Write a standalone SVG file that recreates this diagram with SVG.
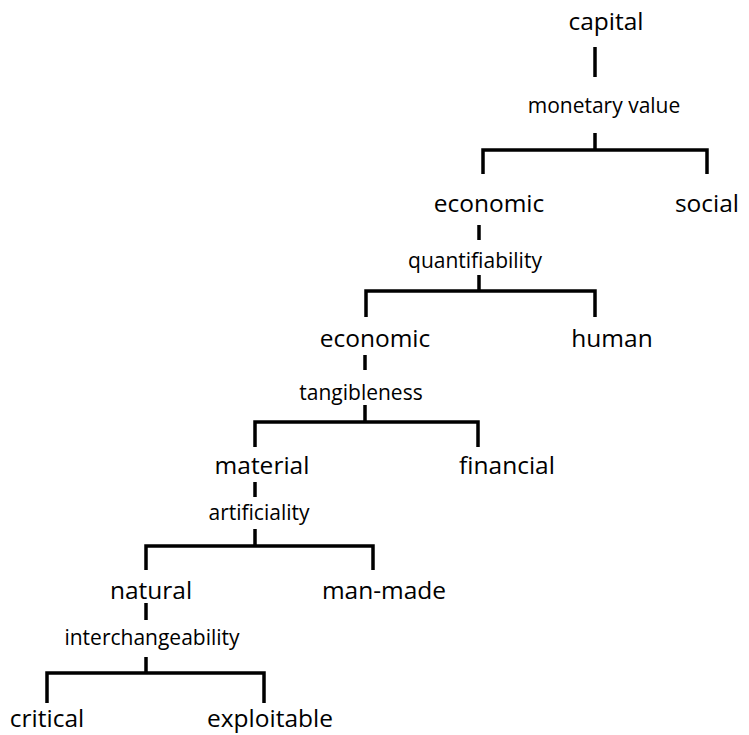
<svg xmlns="http://www.w3.org/2000/svg" width="749" height="735" viewBox="0 0 749 735">
<style>
.bg{fill:#ffffff}
.node text{font-family:"Open Sans","Liberation Sans",sans-serif;font-size:24.5px;fill:#000;text-anchor:middle}
.lbl{font-family:"Open Sans","Liberation Sans",sans-serif;font-size:21px;fill:#000;text-anchor:middle}
.conn{fill:none;stroke:#000;stroke-width:3.5;stroke-linejoin:miter;stroke-linecap:butt}
</style>
<rect class="bg" x="0" y="0" width="749" height="735"/>
<g id="connectors">
  <path class="conn" d="M595,47 V77"/>
  <path class="conn" d="M595,133 V150 M483,174 V150 H707 V174"/>
  <path class="conn" d="M479,225 V240"/>
  <path class="conn" d="M479,275 V291 M366,317 V291 H595 V317"/>
  <path class="conn" d="M365,355 V370"/>
  <path class="conn" d="M365,405 V422 M255,447 V422 H478 V447"/>
  <path class="conn" d="M255,482 V497"/>
  <path class="conn" d="M255,529 V546 M146,570 V546 H373 V570"/>
  <path class="conn" d="M146,603 V620"/>
  <path class="conn" d="M146,657 V673 M47,703 V673 H264 V703"/>
  <text class="lbl" x="604" y="113">monetary value</text>
  <text class="lbl" x="475" y="268">quantifiability</text>
  <text class="lbl" x="361" y="400">tangibleness</text>
  <text class="lbl" x="259" y="520">artificiality</text>
  <text class="lbl" x="152" y="645">interchangeability</text>
</g>
<g id="n-capital" class="node"><text x="606" y="30">capital</text></g>
<g id="n-economic1" class="node"><text x="489" y="212">economic</text></g>
<g id="n-social" class="node"><text x="707" y="212">social</text></g>
<g id="n-economic2" class="node"><text x="375" y="347">economic</text></g>
<g id="n-human" class="node"><text x="612" y="347">human</text></g>
<g id="n-material" class="node"><text x="262" y="474">material</text></g>
<g id="n-financial" class="node"><text x="507" y="474">financial</text></g>
<g id="n-natural" class="node"><text x="151" y="599">natural</text></g>
<g id="n-manmade" class="node"><text x="384" y="599">man-made</text></g>
<g id="n-critical" class="node"><text x="47" y="727">critical</text></g>
<g id="n-exploitable" class="node"><text x="270" y="727">exploitable</text></g>
</svg>
